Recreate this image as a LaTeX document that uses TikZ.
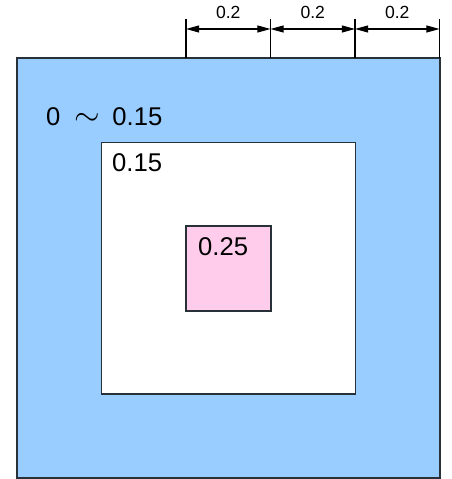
\documentclass[tikz,border=0pt]{standalone}
\usepackage{fontspec}
\setmainfont{Liberation Sans}
\usepackage{tikz}
\usetikzlibrary{arrows.meta}
\definecolor{zoneblue}{RGB}{153,204,255}
\definecolor{zonepink}{RGB}{255,204,236}
\definecolor{zoneedge}{RGB}{40,48,56}

\begin{document}
\begin{tikzpicture}[x=0.02cm,y=-0.02cm,
    zonelabel/.style={anchor=west,font=\fontsize{14.6}{17}\selectfont},
    dimlabel/.style={midway,above=2pt,font=\fontsize{10}{12}\selectfont},
    dimline/.style={{Triangle[length=7.5pt,width=4pt]}-{Triangle[length=7.5pt,width=4pt]},line width=0.6pt}]
    \useasboundingbox (0,0) rectangle (451,479);

    % Zones
    \filldraw[fill=zoneblue,draw=zoneedge,line width=1.1pt] (17,58) rectangle (440,478);
    \filldraw[fill=white,draw=zoneedge,line width=0.7pt] (101.5,142.5) rectangle (355.5,394);
    \filldraw[fill=zonepink,draw=zoneedge,line width=0.6pt] (186,226) rectangle (271,311);

    % Labels
    \node[zonelabel] (outer) at (40,117) {0\hspace{8pt}\scalebox{1.3}{$\sim$}\hspace{7pt}0.15};
    \node[zonelabel] (inner) at (106,163) {0.15};
    \node[zonelabel] (core) at (192,247) {0.25};

    % Dimensions
    \foreach \i/\x in {0/186,1/270.5,2/355,3/439.5} {
        \coordinate (t\i) at (\x,19);
        \coordinate (a\i) at (\x,29);
        \coordinate (b\i) at (\x,58);
        \draw[line width=0.6pt] (t\i) -- (b\i);
    }
    \draw[dimline] (a0) -- node[dimlabel] (d1) {0.2} (a1);
    \draw[dimline] (a1) -- node[dimlabel] (d2) {0.2} (a2);
    \draw[dimline] (a2) -- node[dimlabel] (d3) {0.2} (a3);
\end{tikzpicture}
\end{document}
